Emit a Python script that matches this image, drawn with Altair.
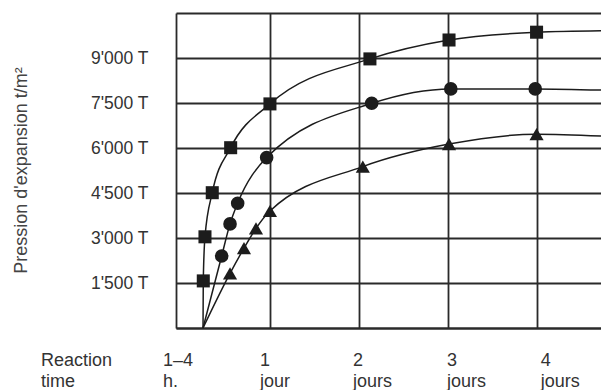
import altair as alt
import pandas as pd

# ---- data (x in days, y in t/m2) ----
series = ["Carré", "Cercle", "Triangle"]
start_day = 0.242          # "1-4 h." : all curves start at zero pressure here
end_day = 4.72             # right edge of the plot

sq_days = [0.245, 0.264, 0.346, 0.553, 0.995, 2.12, 3.01, 3.995]
sq_vals = [1570, 3040, 4510, 6010, 7470, 8970, 9600, 9860]
sq_end = 9910

ci_days = [0.452, 0.546, 0.632, 0.958, 2.14, 3.03, 3.98]
ci_vals = [2400, 3470, 4160, 5680, 7490, 7970, 7970]
ci_end = 7930

tr_days = [0.546, 0.703, 0.838, 0.995, 2.04, 3.01, 3.995]
tr_vals = [1820, 2660, 3320, 3900, 5380, 6130, 6460]
tr_end = 6400

y_ticks = [0, 1500, 3000, 4500, 6000, 7500, 9000, 10500]
x_grid_days = [1, 2, 3, 4]

label_texts = ["Reaction\ntime", "1–4\nh.", "1\njour", "2\njours", "3\njours", "4\njours"]
label_days = [-1.58, -0.208, 0.883, 1.929, 2.986, 4.043]

y_title = "Pression d'expansion t/m²"

# ---- tables ----
all_days = [sq_days, ci_days, tr_days]
all_vals = [sq_vals, ci_vals, tr_vals]
all_ends = [sq_end, ci_end, tr_end]

curve_rows, point_rows = [], []
for name, ds, vs, ev in zip(series, all_days, all_vals, all_ends):
    curve_rows.append({"s": name, "d": start_day, "v": 0})
    for d, v in zip(ds, vs):
        curve_rows.append({"s": name, "d": d, "v": v})
        point_rows.append({"s": name, "d": d, "v": v})
    curve_rows.append({"s": name, "d": end_day, "v": ev})
curves = pd.DataFrame(curve_rows)
points = pd.DataFrame(point_rows)
labels = pd.DataFrame({"d": label_days, "t": label_texts})

FONT = "Liberation Sans"
INK = "#1c1c1c"
GRID = "#2a2a2a"

xscale = alt.Scale(domain=[-0.062, end_day], nice=False, zero=False)
yscale = alt.Scale(domain=[0, 10500], nice=False)

x_axis = alt.Axis(values=x_grid_days, grid=True, labels=False, ticks=False,
                  domain=True, title=None, gridColor=GRID, gridWidth=1.8,
                  gridOpacity=1, domainColor=GRID, domainWidth=1.8)
y_axis = alt.Axis(values=y_ticks, grid=True, ticks=False, domain=True,
                  gridColor=GRID, gridWidth=1.8, gridOpacity=1,
                  domainColor=GRID, domainWidth=1.8,
                  labelExpr="(datum.value == 0 || datum.value == 10500) ? '' : replace(format(datum.value, ','), ',', \"'\") + ' T'",
                  labelFont=FONT, labelFontSize=17.5, labelColor="#333333",
                  labelPadding=28, labelBaseline="middle",
                  title=y_title, titleFont=FONT, titleFontSize=18,
                  titleFontWeight="normal", titleColor="#444444",
                  titleAngle=270, titleX=-155, titleY=157,
                  titleAlign="center", titleBaseline="middle")

lines = alt.Chart(curves).mark_line(interpolate="monotone", color=INK,
                                    strokeWidth=1.5).encode(
    x=alt.X("d:Q", scale=xscale, axis=x_axis),
    y=alt.Y("v:Q", scale=yscale, axis=y_axis),
    detail="s:N",
)

marks = alt.Chart(points).mark_point(filled=True, color=INK, opacity=1).encode(
    x=alt.X("d:Q", scale=xscale),
    y=alt.Y("v:Q", scale=yscale),
    shape=alt.Shape("s:N", scale=alt.Scale(domain=series,
                    range=["square", "circle", "triangle-up"]), legend=None),
    size=alt.Size("s:N", scale=alt.Scale(domain=series, range=[170, 200, 180]),
                  legend=None),
)

texts = alt.Chart(labels).mark_text(align="left", baseline="alphabetic",
                                    lineBreak="\n", lineHeight=21, font=FONT,
                                    fontSize=18, color="#333333").encode(
    x=alt.X("d:Q", scale=xscale),
    y=alt.value(353),
    text="t:N",
)

chart = alt.layer(lines, marks, texts).properties(
    width=425, height=315,
    autosize=alt.AutoSizeParams(type="none"),
    padding={"left": 168, "top": 5, "right": 0, "bottom": 62},
    background="white",
).configure_view(stroke=None)

chart.save("out.html", embed_options={"renderer": "svg", "actions": False})
